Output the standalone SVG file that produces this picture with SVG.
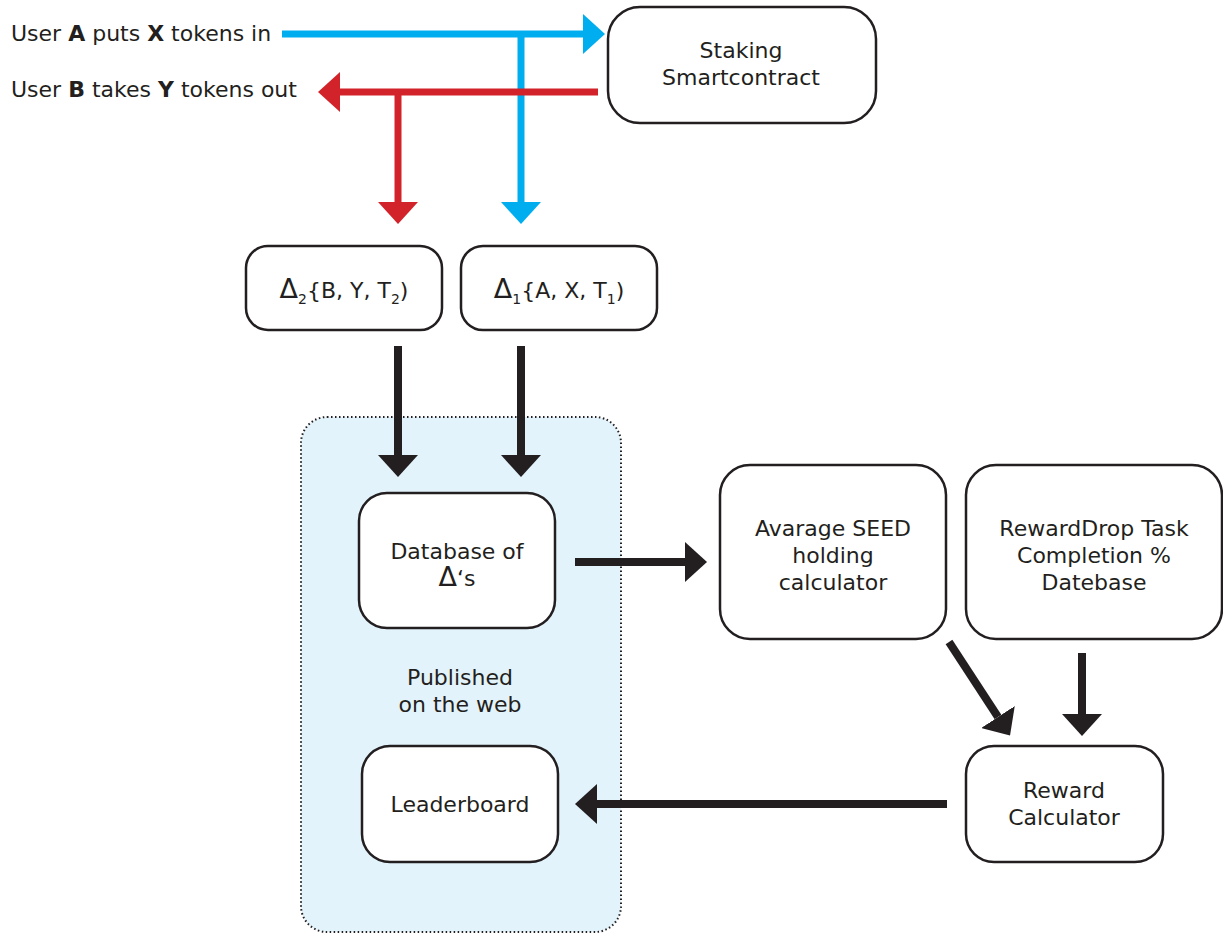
<svg xmlns="http://www.w3.org/2000/svg" width="1223" height="933" viewBox="0 0 1223 933">
<style>
  .box { fill: #ffffff; stroke: #231f20; stroke-width: 2.5; }
  .t { font-family: "DejaVu Sans", "Liberation Sans", sans-serif; font-size: 22px; fill: #231f20; }
  .c { text-anchor: middle; }
  .k { stroke: #231f20; stroke-width: 8; fill: none; }
  .blue { stroke: #00aeef; stroke-width: 7; fill: none; }
  .red { stroke: #d2232a; stroke-width: 7; fill: none; }
</style>
<defs>
  <marker id="ak" viewBox="0 -20 22 40" markerWidth="22" markerHeight="40" refX="0" refY="0" markerUnits="userSpaceOnUse" orient="auto">
    <path d="M0,-20 L22,0 L0,20 z" fill="#231f20"/>
  </marker>
  <marker id="ab" viewBox="0 -20 22 40" markerWidth="22" markerHeight="40" refX="0" refY="0" markerUnits="userSpaceOnUse" orient="auto">
    <path d="M0,-20 L22,0 L0,20 z" fill="#00aeef"/>
  </marker>
  <marker id="ar" viewBox="0 -20 22 40" markerWidth="22" markerHeight="40" refX="0" refY="0" markerUnits="userSpaceOnUse" orient="auto">
    <path d="M0,-20 L22,0 L0,20 z" fill="#d2232a"/>
  </marker>
</defs>

<g id="container">
  <rect x="301" y="417" width="320" height="515" rx="26" fill="#e3f3fb" stroke="#231f20" stroke-width="2" stroke-dasharray="1.5 2.5"/>
  <text class="t c" x="460" y="685">Published</text>
  <text class="t c" x="460" y="712">on the web</text>
</g>

<g id="labels">
  <text class="t" x="11" y="41">User <tspan font-weight="700">A</tspan> puts <tspan font-weight="700">X</tspan> tokens in</text>
  <text class="t" x="11" y="97">User <tspan font-weight="700">B</tspan> takes <tspan font-weight="700">Y</tspan> tokens out</text>
</g>

<g id="connectors">
  <line class="blue" x1="521" y1="34" x2="521" y2="202" marker-end="url(#ab)"/>
  <line class="red" x1="598" y1="92" x2="340" y2="92" marker-end="url(#ar)"/>
  <line class="red" x1="398" y1="92" x2="398" y2="202" marker-end="url(#ar)"/>
  <line class="blue" x1="282" y1="34" x2="583" y2="34" marker-end="url(#ab)"/>
  <line class="k" x1="398" y1="346" x2="398" y2="455" marker-end="url(#ak)"/>
  <line class="k" x1="521" y1="346" x2="521" y2="455" marker-end="url(#ak)"/>
  <line class="k" x1="575" y1="562" x2="685" y2="562" marker-end="url(#ak)"/>
  <line class="k" x1="949" y1="642" x2="998" y2="717" marker-end="url(#ak)"/>
  <line class="k" x1="1082" y1="653" x2="1082" y2="714" marker-end="url(#ak)"/>
  <line class="k" x1="947" y1="804" x2="597" y2="804" marker-end="url(#ak)"/>
</g>

<g id="staking">
  <rect class="box" x="608" y="7" width="268" height="116" rx="32"/>
  <text class="t c" x="741" y="58">Staking</text>
  <text class="t c" x="741" y="85">Smartcontract</text>
</g>

<g id="delta2">
  <rect class="box" x="246" y="246" width="196" height="84" rx="22"/>
  <text class="t c" x="344" y="298"><tspan font-size="27">Δ</tspan><tspan font-size="14" dy="6">2</tspan><tspan dy="-6">{B, Y, T</tspan><tspan font-size="14" dy="6">2</tspan><tspan dy="-6">)</tspan></text>
</g>

<g id="delta1">
  <rect class="box" x="461" y="246" width="196" height="84" rx="22"/>
  <text class="t c" x="559" y="298"><tspan font-size="27">Δ</tspan><tspan font-size="14" dy="6">1</tspan><tspan dy="-6">{A, X, T</tspan><tspan font-size="14" dy="6">1</tspan><tspan dy="-6">)</tspan></text>
</g>

<g id="database">
  <rect class="box" x="359" y="493" width="196" height="135" rx="28"/>
  <text class="t c" x="457" y="559">Database of</text>
  <text class="t c" x="457" y="586"><tspan font-size="27">Δ</tspan>‘s</text>
</g>

<g id="avarage">
  <rect class="box" x="720" y="465" width="226" height="174" rx="30"/>
  <text class="t c" x="833" y="536">Avarage SEED</text>
  <text class="t c" x="833" y="563">holding</text>
  <text class="t c" x="833" y="590">calculator</text>
</g>

<g id="rewarddrop">
  <rect class="box" x="966" y="465" width="256" height="174" rx="30"/>
  <text class="t c" x="1094" y="536">RewardDrop Task</text>
  <text class="t c" x="1094" y="563">Completion %</text>
  <text class="t c" x="1094" y="590">Datebase</text>
</g>

<g id="reward">
  <rect class="box" x="966" y="746" width="197" height="116" rx="28"/>
  <text class="t c" x="1064" y="798">Reward</text>
  <text class="t c" x="1064" y="825">Calculator</text>
</g>

<g id="leaderboard">
  <rect class="box" x="362" y="746" width="196" height="116" rx="28"/>
  <text class="t c" x="460" y="812">Leaderboard</text>
</g>
</svg>
